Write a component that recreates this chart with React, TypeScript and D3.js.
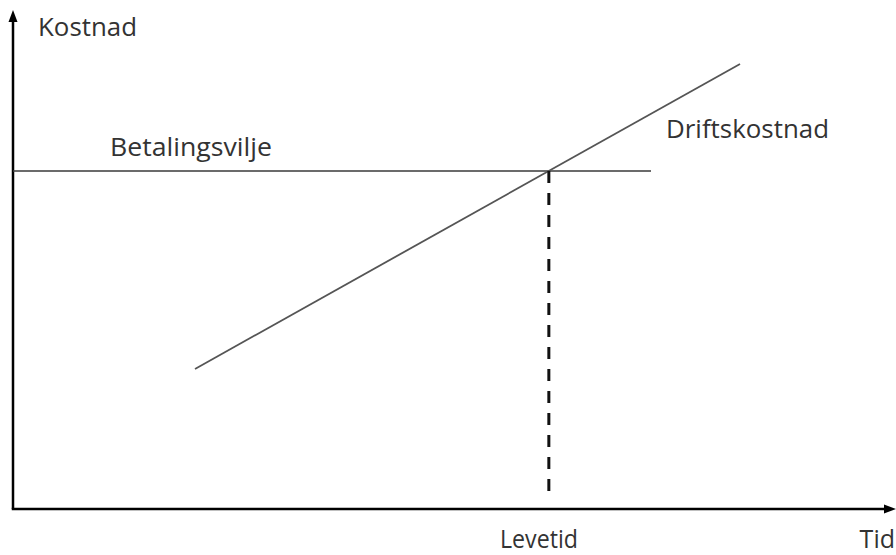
import React from "react";
import * as d3 from "d3";

const W = 896;
const H = 555;

// Abstract units (0–100) for time and cost
const costLine: [number, number][] = [
  [20.75, 28.06],
  [82.9, 89.18],
];
const willingness: [number, number][] = [
  [0, 67.74],
  [72.75, 67.74],
];
const lifetime = 61.1;
const axisLabels = { x: "Tid", y: "Kostnad" };
const seriesLabels = ["Betalingsvilje", "Driftskostnad", "Levetid"];

export default function App() {
  const x = d3.scaleLinear().domain([0, 100]).range([13, 890]);
  const y = d3.scaleLinear().domain([0, 100]).range([509, 10]);
  const line = d3
    .line<[number, number]>()
    .x((d) => x(d[0]))
    .y((d) => y(d[1]));

  const font = "'Open Sans', sans-serif";
  const tc = "#333";
  const x0 = x(0);
  const y0 = y(0);
  const xEnd = 896;
  const yTop = 10;

  return (
    <svg
      width={W}
      height={H}
      style={{ position: "absolute", left: 0, top: 0, background: "#fff" }}
    >
      {/* axes */}
      <line x1={x0} y1={y0} x2={x0} y2={yTop + 10} stroke="#000" strokeWidth={2.5} />
      <path d={`M${x0},${yTop} L${x0 - 4.5},${yTop + 12} L${x0 + 4.5},${yTop + 12} Z`} fill="#000" />
      <line x1={x0 - 1.25} y1={y0} x2={xEnd - 10} y2={y0} stroke="#000" strokeWidth={2.5} />
      <path d={`M${xEnd},${y0} L${xEnd - 12},${y0 - 4.5} L${xEnd - 12},${y0 + 4.5} Z`} fill="#000" />

      {/* willingness to pay */}
      <path d={line(willingness) ?? ""} fill="none" stroke="#3a3a3a" strokeWidth={1.5} />
      {/* operating cost */}
      <path d={line(costLine) ?? ""} fill="none" stroke="#555" strokeWidth={1.8} />
      {/* lifetime dashed */}
      <line
        x1={x(lifetime)}
        y1={y(willingness[0][1])}
        x2={x(lifetime)}
        y2={y0 - 11}
        stroke="#111"
        strokeWidth={3}
        strokeDasharray="12 10"
      />

      <g fontFamily={font} fontSize={25} fill={tc}>
        <text x={38} y={36} textLength={99} lengthAdjust="spacingAndGlyphs">{axisLabels.y}</text>
        <text x={110} y={156} textLength={162} lengthAdjust="spacingAndGlyphs">{seriesLabels[0]}</text>
        <text x={666} y={138} textLength={163} lengthAdjust="spacingAndGlyphs">{seriesLabels[1]}</text>
        <text x={500} y={548} textLength={78} lengthAdjust="spacingAndGlyphs">{seriesLabels[2]}</text>
        <text x={895} y={548} textAnchor="end">{axisLabels.x}</text>
      </g>
    </svg>
  );
}
